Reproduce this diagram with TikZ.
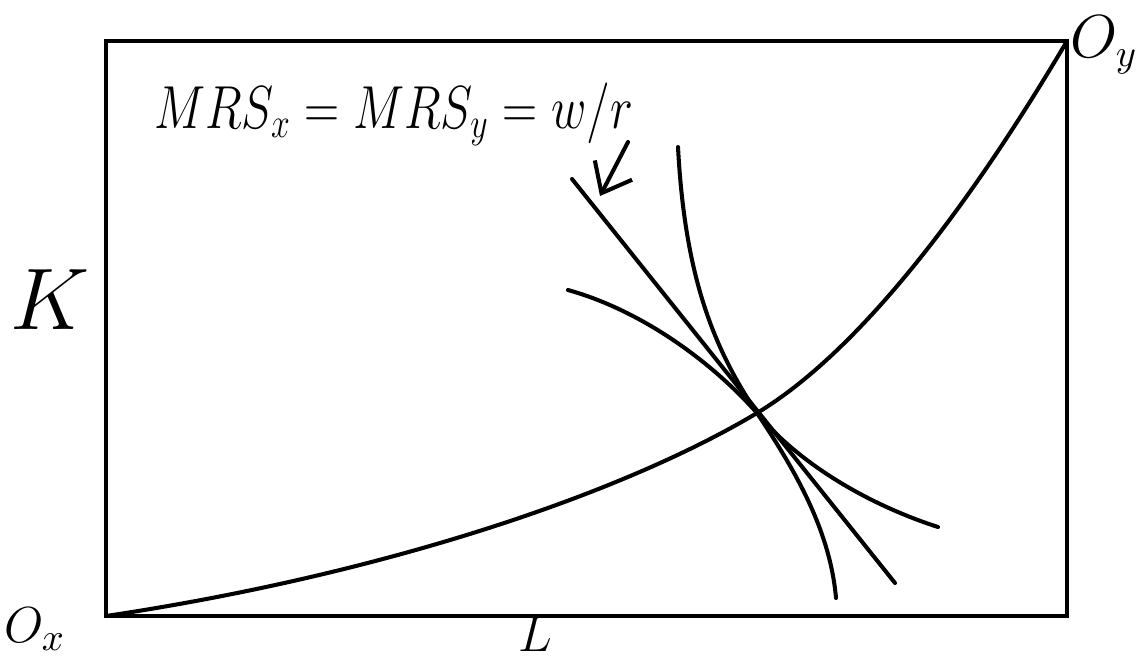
\documentclass[tikz,border=0pt]{standalone}
\usepackage{amsmath}
\usepackage{graphicx}
\usetikzlibrary{arrows.meta}

\begin{document}
\begin{tikzpicture}[x=0.01cm,y=-0.01cm,line width=1.15pt,
    curve/.style={line width=1.15pt,line cap=round},
    lbl/.style={inner sep=0pt,font=\fontsize{26}{28}\selectfont},
    >={Straight Barb[length=2.6mm,width=4.2mm]}]
  \useasboundingbox (0,0) rectangle (1143,656);
  \clip (0,0) rectangle (1143,656);
  \coordinate (Ox) at (106,616);
  \coordinate (Oy) at (1067,41);
  \coordinate (E) at (757,413);
  \draw (Ox) rectangle (Oy);

  \node[lbl,anchor=base west,font=\fontsize{17}{20}\selectfont] (mrs) at (152,128)
    {\scalebox{0.8}[1]{$MRS_x=MRS_y=w/r$}};
  \node[lbl] (klab) at (50,300) {$K$};
  \node[lbl,anchor=south,font=\fontsize{14}{16}\selectfont] (llab) at (535,653) {$L$};
  \node[lbl,anchor=south west,font=\fontsize{15}{17}\selectfont] (oxlab) at (2,652) {$O_x$};
  \node[lbl,anchor=north east,font=\fontsize{16}{18}\selectfont] (oylab) at (1140,14) {$O_y$};

  \draw[curve] (Ox) .. controls (380,575) and (620,495) .. (E)
    .. controls (870,345) and (985,180) .. (Oy);
  \draw[curve] (572,179) -- (895,583);
  \draw[curve] (678,147) .. controls (685,280) and (715,350) .. (E)
    .. controls (795,470) and (830,530) .. (836,598);
  \draw[curve] (568,290) .. controls (640,310) and (710,360) .. (E)
    .. controls (800,465) and (870,505) .. (938,527);

  \coordinate (tail) at (628,142);
  \coordinate (tip) at (600,196);
  \draw[->,line cap=round] (tail) -- (tip);
\end{tikzpicture}
\end{document}
